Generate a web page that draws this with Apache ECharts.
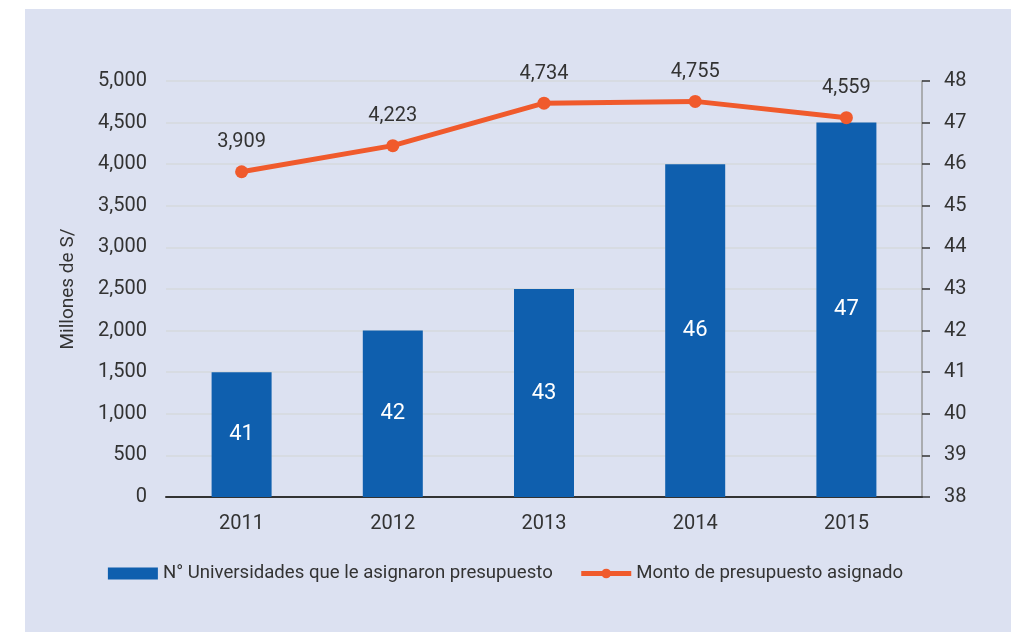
<!DOCTYPE html>
<html>
<head>
<meta charset="utf-8">
<script src="https://cdn.jsdelivr.net/npm/echarts@6/dist/echarts.min.js"></script>
<style>
  html, body { margin: 0; padding: 0; background: #ffffff; }
  #panel { position: absolute; left: 25px; top: 9px; width: 986px; height: 623px; background: #dce1f1; }
  #main { position: absolute; left: 0; top: 0; width: 1011px; height: 632px; }
</style>
</head>
<body>
<div id="panel"></div>
<div id="main"></div>
<script>
// datos
var years = ['2011', '2012', '2013', '2014', '2015'];
var universidades = [41, 42, 43, 46, 47];
var presupuesto = [3909, 4223, 4734, 4755, 4559];

var fmt = function (v) {
    return Number(v).toLocaleString('en-US');
};
var txt = '#333333';
var fam = 'Roboto';

var myChart = echarts.init(document.getElementById('main'));

option = {
    backgroundColor: 'transparent',
    textStyle: { fontFamily: fam },
    grid: { left: 166, right: 89, top: 81, bottom: 135 },
    legend: {
        bottom: 44,
        left: 'center',
        itemGap: 26,
        itemWidth: 50,
        itemHeight: 12,
        textStyle: { color: txt, fontSize: 18.6, fontFamily: fam },
        data: [
            { name: 'N° Universidades que le asignaron presupuesto', icon: 'rect' },
            { name: 'Monto de presupuesto asignado', lineStyle: { width: 5 } }
        ]
    },
    xAxis: {
        type: 'category',
        data: years,
        axisTick: { show: false },
        axisLine: { lineStyle: { color: '#333333', width: 2 } },
        axisLabel: { color: txt, fontSize: 20, margin: 17 }
    },
    yAxis: [
        {
            type: 'value',
            min: 0,
            max: 5000,
            interval: 500,
            name: 'Millones de S/',
            nameLocation: 'middle',
            nameGap: 88,
            nameTextStyle: { color: txt, fontSize: 19 },
            axisLine: { show: false },
            axisTick: { show: false },
            axisLabel: { color: txt, fontSize: 20, margin: 19, formatter: fmt },
            splitLine: { lineStyle: { color: '#d6d8dc', width: 1.5 } }
        },
        {
            type: 'value',
            min: 38,
            max: 48,
            interval: 1,
            position: 'right',
            axisLine: { show: true, lineStyle: { color: '#9a9a9a', width: 1.5 } },
            axisTick: { show: true, length: 8, inside: false, lineStyle: { color: '#333333', width: 1.5 } },
            axisLabel: { color: txt, fontSize: 20, margin: 22 },
            splitLine: { show: false }
        }
    ],
    series: [
        {
            name: 'N° Universidades que le asignaron presupuesto',
            type: 'bar',
            yAxisIndex: 1,
            barWidth: 60,
            data: universidades,
            itemStyle: { color: '#0f5fae' },
            label: {
                show: true,
                position: 'inside',
                color: '#ffffff',
                fontSize: 22,
                fontFamily: fam
            },
            z: 2
        },
        {
            name: 'Monto de presupuesto asignado',
            type: 'line',
            yAxisIndex: 0,
            data: presupuesto,
            symbol: 'circle',
            symbolSize: 13,
            lineStyle: { color: '#f05a2c', width: 5 },
            itemStyle: { color: '#f05a2c' },
            label: {
                show: true,
                position: 'top',
                distance: 13,
                color: txt,
                fontSize: 20,
                fontFamily: fam,
                formatter: function (p) { return fmt(p.value); }
            },
            z: 3
        }
    ]
};

myChart.setOption(option);
</script>
</body>
</html>
